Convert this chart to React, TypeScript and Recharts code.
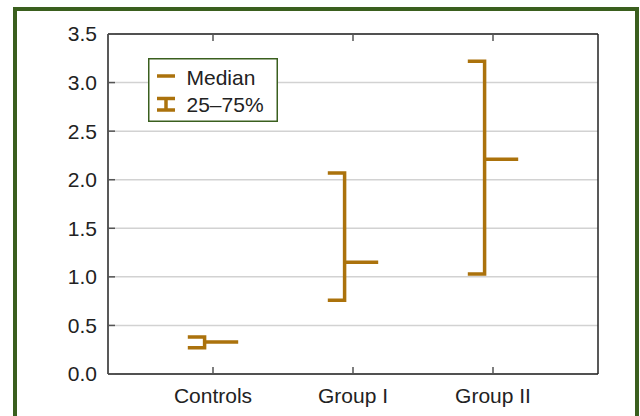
import React from 'react';
import { ComposedChart, Line, XAxis, YAxis, CartesianGrid, Legend } from 'recharts';

const categories = ['Controls', 'Group I', 'Group II'];
const q25 = [0.27, 0.76, 1.03];
const q75 = [0.38, 2.07, 3.22];
const medians = [0.33, 1.15, 2.21];
const yTicks = [0, 0.5, 1.0, 1.5, 2.0, 2.5, 3.0, 3.5];
const xTicks = [1, 2, 3];

const GOLD = '#AB720C';
const GREEN = '#3A5F1E';
const FONT = "'Liberation Sans', Arial, Helvetica, sans-serif";

const V_OFF = -0.06;
const CAP_END = -0.18;
const MED_END = 0.18;

const bracketData: { x: number; y: number | null }[] = [];
const medianData: { x: number; y: number | null }[] = [];
categories.forEach((_, i) => {
  const c = i + 1;
  bracketData.push({ x: c + CAP_END, y: q75[i] });
  bracketData.push({ x: c + V_OFF, y: q75[i] });
  bracketData.push({ x: c + V_OFF, y: q25[i] });
  bracketData.push({ x: c + CAP_END, y: q25[i] });
  bracketData.push({ x: c + 0.5, y: null });
  medianData.push({ x: c + V_OFF, y: medians[i] });
  medianData.push({ x: c + MED_END, y: medians[i] });
  medianData.push({ x: c + 0.5, y: null });
});

const renderLegend = () => (
  <svg width={130} height={64} style={{ display: 'block' }}>
    <rect x={0.75} y={0.75} width={128.5} height={62.5} fill="#fff" stroke={GREEN} strokeWidth={1.5} />
    <line x1={9} x2={27} y1={18} y2={18} stroke={GOLD} strokeWidth={3.5} />
    <text x={38.5} y={19} dy="0.36em" fontFamily={FONT} fontSize={21} fill="#222">Median</text>
    <line x1={9} x2={27} y1={40.5} y2={40.5} stroke={GOLD} strokeWidth={3.5} />
    <line x1={9} x2={27} y1={52} y2={52} stroke={GOLD} strokeWidth={3.5} />
    <line x1={18} x2={18} y1={40.5} y2={52} stroke={GOLD} strokeWidth={3.5} />
    <text x={38.5} y={46} dy="0.36em" fontFamily={FONT} fontSize={21} fill="#222">25–75%</text>
  </svg>
);

const axisLine = { stroke: '#222', strokeWidth: 1.5 };
const tickLine = { stroke: '#555', strokeWidth: 1.5 };
const tickStyle = { fontFamily: FONT, fontSize: 21, fill: '#222' };

export default function App() {
  return (
    <div style={{ position: 'absolute', left: 0, top: 0, width: 640, height: 416, overflow: 'hidden', background: '#fff' }}>
      <div
        style={{
          position: 'absolute',
          left: 13,
          top: 7,
          width: 626,
          height: 430,
          border: `4px solid ${GREEN}`,
          boxSizing: 'border-box',
        }}
      />
      <div style={{ position: 'absolute', left: 0, top: 0 }}>
        <ComposedChart width={640} height={416} margin={{ top: 14, right: 22, bottom: 12, left: 48 }}>
          <CartesianGrid vertical={false} stroke="#d2d2d2" strokeWidth={1.5} />
          <XAxis
            dataKey="x"
            type="number"
            domain={[0.25, 3.75]}
            ticks={xTicks}
            interval={0}
            allowDataOverflow
            height={30}
            tickFormatter={(v: number) => categories[v - 1] ?? ''}
            tick={tickStyle}
            tickSize={-7}
            tickMargin={21}
            axisLine={axisLine}
            tickLine={tickLine}
          />
          <XAxis
            xAxisId="top"
            orientation="top"
            dataKey="x"
            type="number"
            domain={[0.25, 3.75]}
            ticks={xTicks}
            interval={0}
            allowDataOverflow
            height={20}
            tickFormatter={() => ''}
            tickSize={-7}
            axisLine={axisLine}
            tickLine={tickLine}
          />
          <YAxis
            type="number"
            domain={[0, 3.5]}
            ticks={yTicks}
            interval={0}
            width={60}
            tickFormatter={(v: number) => v.toFixed(1)}
            tick={tickStyle}
            tickSize={-7}
            tickMargin={18}
            axisLine={axisLine}
            tickLine={tickLine}
          />
          <YAxis
            yAxisId="r"
            orientation="right"
            type="number"
            domain={[0, 3.5]}
            ticks={yTicks}
            interval={0}
            width={20}
            tickFormatter={() => ''}
            tickSize={-7}
            axisLine={axisLine}
            tickLine={tickLine}
          />
          <Legend
            verticalAlign="middle"
            align="center"
            content={renderLegend}
            wrapperStyle={{ position: 'absolute', left: 148, top: 58, width: 130, height: 64 }}
          />
          <Line
            name="25–75%"
            data={bracketData}
            dataKey="y"
            stroke={GOLD}
            strokeWidth={3.5}
            strokeLinejoin="miter"
            dot={false}
            activeDot={false}
            isAnimationActive={false}
          />
          <Line
            name="Median"
            data={medianData}
            dataKey="y"
            stroke={GOLD}
            strokeWidth={3.5}
            dot={false}
            activeDot={false}
            isAnimationActive={false}
          />
        </ComposedChart>
      </div>
    </div>
  );
}
